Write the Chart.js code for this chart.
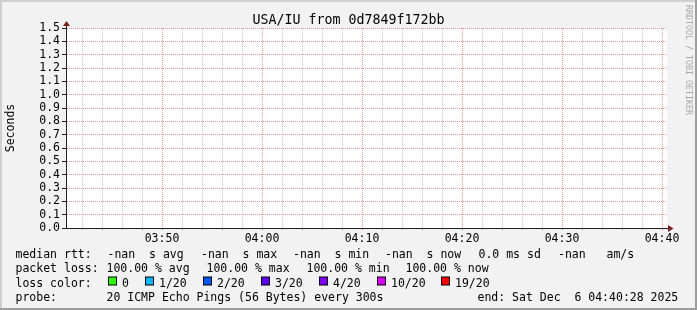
<!DOCTYPE html>
<html>
<head>
<meta charset="utf-8">
<title>USA/IU from 0d7849f172bb</title>
<script src="https://cdn.jsdelivr.net/npm/chart.js@4.4.1/dist/chart.umd.min.js"></script>
<style>
  html, body { margin: 0; padding: 0; background: #f2f2f2; }
  #wrap { width: 697px; height: 310px; }
  canvas { display: block; }
</style>
</head>
<body>
<div id="wrap"><canvas id="chart" width="697" height="310"></canvas></div>
<script>
// probes every 300s, all lost -> no rtt values to plot
const probeTimes = ['03:45', '03:50', '03:55', '04:00', '04:05', '04:10', '04:15', '04:20', '04:25', '04:30', '04:35', '04:40'];
const medianRtt = [null, null, null, null, null, null, null, null, null, null, null, null];

const timeLabels = ['03:50', '04:00', '04:10', '04:20', '04:30', '04:40'];
const yTicks = [0.0, 0.1, 0.2, 0.3, 0.4, 0.5, 0.6, 0.7, 0.8, 0.9, 1.0, 1.1, 1.2, 1.3, 1.4, 1.5];

const title = 'USA/IU from 0d7849f172bb';
const rttLegend = ['-nan  s avg', '-nan  s max', '-nan  s min', '-nan  s now', '0.0 ms sd', '-nan   am/s'];
const lossLegend = ['100.00 % avg', '100.00 % max', '100.00 % min', '100.00 % now'];
const lossSteps = ['0', '1/20', '2/20', '3/20', '4/20', '10/20', '19/20'];
const lossColors = ['#26ff00', '#00b8ff', '#0059ff', '#5e00ff', '#7e00ff', '#dd00ff', '#ff0000'];
const probeText = '20 ICMP Echo Pings (56 Bytes) every 300s';
const endText = 'end: Sat Dec  6 04:40:28 2025';

// layout of the legend block (x of each item)
const rttX = [107.5, 201, 293, 385, 478.5, 558];
const lossX = [106.5, 206.5, 306.5, 405.5];
const swatchX = [108, 145, 203, 261, 319, 377, 441];
const rowY = [257.5, 272, 286.5, 300.5];

const MONO = '"DejaVu Sans Mono", monospace';
const MINOR = '#c8c8c8';
const MAJOR = '#e99494';

const toMin = (s) => +s.slice(0, 2) * 60 + +s.slice(3);
const majorTicks = timeLabels.map(toMin);
const xMin = toMin('03:40') + 0.5;
const xMax = toMin('04:40') + 0.5;

const rrdFrame = {
  id: 'rrdFrame',
  beforeDraw(chart) {
    const { ctx, chartArea: a, width, height } = chart;
    ctx.save();
    ctx.fillStyle = '#f2f2f2';
    ctx.fillRect(0, 0, width, height);
    ctx.fillStyle = '#cfcfcf';
    ctx.fillRect(0, 0, width, 2);
    ctx.fillRect(0, 0, 2, height);
    ctx.fillStyle = '#9e9e9e';
    ctx.fillRect(0, height - 2, width, 2);
    ctx.fillRect(width - 2, 0, 2, height);
    ctx.fillStyle = '#ffffff';
    ctx.fillRect(a.left, a.top, a.right - a.left, a.bottom - a.top);
    ctx.restore();
  },
  afterDraw(chart) {
    const { ctx, chartArea: a, width } = chart;
    const x0 = a.left - 0.5;
    const y0 = a.bottom + 0.5;
    ctx.save();

    // axes
    ctx.lineWidth = 1;
    ctx.strokeStyle = '#1f1f1f';
    ctx.beginPath();
    ctx.moveTo(x0, y0);
    ctx.lineTo(x0, a.top - 2);
    ctx.moveTo(a.left - 4, y0);
    ctx.lineTo(a.right + 2, y0);
    ctx.stroke();

    // arrows
    ctx.fillStyle = '#802020';
    ctx.beginPath();
    ctx.moveTo(x0 - 3.5, a.top - 2);
    ctx.lineTo(x0, a.top - 7);
    ctx.lineTo(x0 + 3.5, a.top - 2);
    ctx.closePath();
    ctx.fill();
    ctx.beginPath();
    ctx.moveTo(a.right + 1, y0 - 3.5);
    ctx.lineTo(a.right + 6.5, y0);
    ctx.lineTo(a.right + 1, y0 + 3.5);
    ctx.closePath();
    ctx.fill();

    // title
    ctx.fillStyle = '#000';
    ctx.font = '13.3px ' + MONO;
    ctx.textAlign = 'center';
    ctx.textBaseline = 'alphabetic';
    ctx.fillText(title, width / 2, 24);

    // legend
    ctx.font = '11.5px ' + MONO;
    ctx.textAlign = 'left';
    ctx.fillText('median rtt:', 15.5, rowY[0]);
    rttLegend.forEach((t, i) => ctx.fillText(t, rttX[i], rowY[0]));
    ctx.fillText('packet loss:', 15.5, rowY[1]);
    lossLegend.forEach((t, i) => ctx.fillText(t, lossX[i], rowY[1]));
    ctx.fillText('loss color:', 15.5, rowY[2]);
    lossSteps.forEach((t, i) => {
      ctx.fillStyle = '#000';
      ctx.fillRect(swatchX[i], rowY[2] - 10, 9, 9);
      ctx.fillStyle = lossColors[i];
      ctx.fillRect(swatchX[i] + 1, rowY[2] - 9, 7, 7);
      ctx.fillStyle = '#000';
      ctx.fillText(t, swatchX[i] + 14, rowY[2]);
    });
    ctx.fillText('probe:', 15.5, rowY[3]);
    ctx.fillText(probeText, 106.5, rowY[3]);
    ctx.fillText(endText, 477.5, rowY[3]);

    // watermark
    ctx.translate(688, 5);
    ctx.rotate(Math.PI / 2);
    ctx.fillStyle = '#a8a8a8';
    ctx.font = '8.3px ' + MONO;
    ctx.textBaseline = 'middle';
    ctx.fillText('RRDTOOL / TOBI OETIKER', 0, 0);
    ctx.restore();
  }
};

new Chart(document.getElementById('chart'), {
  type: 'line',
  data: {
    datasets: [{
      label: 'median rtt',
      data: probeTimes.map((t, i) => ({ x: toMin(t), y: medianRtt[i] })),
      borderColor: '#202020',
      pointRadius: 0,
      spanGaps: false
    }]
  },
  options: {
    responsive: false,
    animation: false,
    events: [],
    layout: { padding: { left: 0, top: 28, right: 30, bottom: 0 } },
    plugins: {
      legend: { display: false },
      tooltip: { enabled: false }
    },
    scales: {
      x: {
        type: 'linear',
        min: xMin,
        max: xMax,
        afterBuildTicks: (scale) => {
          const ticks = [];
          for (let m = toMin('03:42'); m <= toMin('04:40'); m += 2) ticks.push({ value: m });
          scale.ticks = ticks;
        },
        afterFit: (scale) => { scale.height = 82; },
        grid: {
          color: (c) => (c.tick && majorTicks.includes(c.tick.value) ? MAJOR : MINOR),
          tickColor: (c) => (c.tick && majorTicks.includes(c.tick.value) ? MAJOR : MINOR),
          tickLength: 2,
          lineWidth: 1
        },
        border: { display: false, dash: [1, 1] },
        ticks: {
          autoSkip: false,
          maxRotation: 0,
          padding: 2,
          color: '#000',
          font: { family: MONO, size: 11.5 },
          callback: (v) => {
            const i = majorTicks.indexOf(v);
            return i >= 0 ? timeLabels[i] : '';
          }
        }
      },
      y: {
        type: 'linear',
        min: 0,
        max: 1.5,
        afterBuildTicks: (scale) => { scale.ticks = yTicks.map((v) => ({ value: v })); },
        afterFit: (scale) => { scale.width = 67; },
        grid: {
          color: MAJOR,
          tickColor: '#1f1f1f',
          tickLength: 5,
          lineWidth: 1
        },
        border: { display: false, dash: [1, 1] },
        title: {
          display: true,
          text: 'Seconds',
          color: '#000',
          font: { family: MONO, size: 11.5 },
          padding: { top: 4.5, bottom: 0 }
        },
        ticks: {
          autoSkip: false,
          padding: 2,
          color: '#000',
          font: { family: MONO, size: 11.5 },
          callback: (v) => v.toFixed(1)
        }
      }
    }
  },
  plugins: [rrdFrame]
});
</script>
</body>
</html>
